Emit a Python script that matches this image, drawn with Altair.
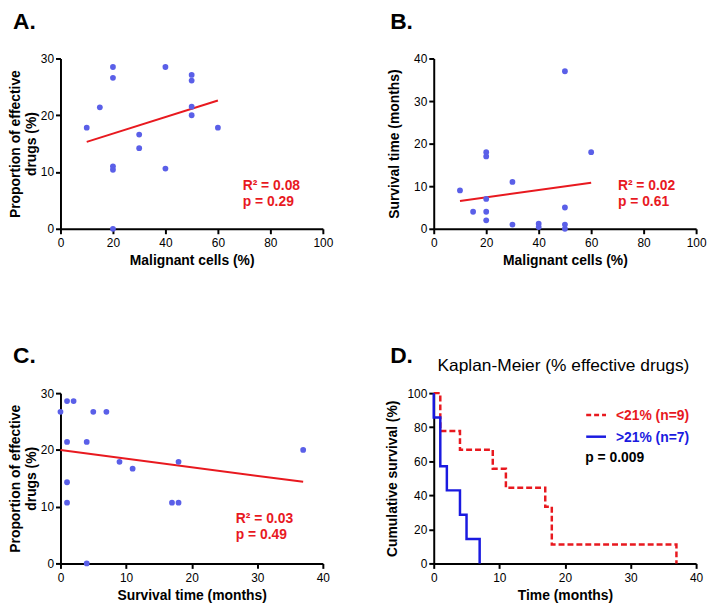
import altair as alt
import pandas as pd

FONT = "Liberation Sans"
DOT = "#5a5fe8"
RED = "#e8191f"
BLUE = "#1a1ae0"

# ---- Panel A: malignant cells vs proportion of effective drugs
a_malignant = [10, 15, 20, 20, 20, 20, 20, 30, 30, 40, 40, 50, 50, 50, 50, 60]
a_effective = [17.8, 21.4, 28.5, 26.6, 11.0, 10.4, 0, 16.6, 14.2, 28.5, 10.6, 27.1, 26.1, 21.5, 20.0, 17.8]
a_stats = ["R² = 0.08", "p = 0.29"]

# ---- Panel B: malignant cells vs survival time
b_malignant = [10, 15, 20, 20, 20, 20, 20, 30, 30, 40, 40, 50, 50, 50, 50, 60]
b_survival = [9, 4, 18, 17, 7, 4, 2, 11, 1, 1.2, 0.4, 37, 5, 1, 0, 18]
b_stats = ["R² = 0.02", "p = 0.61"]

# ---- Panel C: survival time vs proportion of effective drugs
c_survival = [0, 1, 2, 5, 7, 1, 4, 9, 11, 18, 37, 1, 1, 17, 18, 4]
c_effective = [26.7, 28.6, 28.6, 26.7, 26.7, 21.4, 21.4, 17.9, 16.7, 17.9, 20.0, 14.3, 10.7, 10.7, 10.7, 0]
c_stats = ["R² = 0.03", "p = 0.49"]

# ---- Panel D: Kaplan-Meier
km_low_time = [0, 1, 4, 9, 11, 17, 18, 37]
km_low_surv = [100, 77.8, 66.7, 55.6, 44.4, 33.3, 11.1, 0]
km_high_time = [0, 0, 1, 2, 4, 5, 7]
km_high_surv = [100, 85.7, 57.1, 42.9, 28.6, 14.3, 0]
km_title = "Kaplan-Meier (% effective drugs)"
km_low_label = "<21% (n=9)"
km_high_label = ">21% (n=7)"
km_p = "p = 0.009"

W, H = 265, 172
one = pd.DataFrame({"k": [0]})


def ax(**kw):
    return alt.Axis(
        grid=False, domainColor="#000000", domainWidth=2,
        tickColor="#000000", tickWidth=2, tickSize=5,
        labelFont=FONT, labelFontSize=12, labelColor="#000000", labelFlush=False,
        titleFont=FONT, titleFontSize=14, titleFontWeight="bold", titleColor="#000000",
        **kw
    )


def label(txt, dx):
    return alt.Chart(one).mark_text(
        text=txt, font=FONT, fontSize=23, fontWeight="bold", color="black",
        align="left", baseline="alphabetic"
    ).encode(x=alt.value(dx), y=alt.value(-30))


def scatter(xv, yv, xdom, xticks, ydom, yticks, xtitle, ytitle, ypad, stats, sx, sy, lab, ldx):
    df = pd.DataFrame({"x": xv, "y": yv})
    xenc = alt.X("x:Q", scale=alt.Scale(domain=xdom, nice=False),
                 axis=ax(values=xticks, title=xtitle, titlePadding=5, labelPadding=4))
    yenc = alt.Y("y:Q", scale=alt.Scale(domain=ydom, nice=False),
                 axis=ax(values=yticks, title=ytitle, titlePadding=ypad, titleLineHeight=16,
                         labelPadding=2))
    pts = alt.Chart(df).mark_circle(size=34, color=DOT, opacity=1).encode(x=xenc, y=yenc)
    reg = alt.Chart(df).transform_regression("x", "y").mark_line(
        color=RED, strokeWidth=2).encode(x=xenc, y=yenc)
    st = alt.Chart(one).mark_text(
        text=stats, font=FONT, fontSize=14, fontWeight="bold", color=RED,
        align="left", baseline="alphabetic", lineHeight=16
    ).encode(x=alt.value(sx), y=alt.value(sy))
    return alt.layer(reg, pts, st, label(lab, ldx)).properties(width=W, height=H)


A = scatter(a_malignant, a_effective, [0, 100], [0, 20, 40, 60, 80, 100], [0, 30], [0, 10, 20, 30],
            "Malignant cells (%)", ["Proportion of effective", "drugs (%)"], 2,
            a_stats, 184, 133, "A.", -48)
B = scatter(b_malignant, b_survival, [0, 100], [0, 20, 40, 60, 80, 100], [0, 40], [0, 10, 20, 30, 40],
            "Malignant cells (%)", "Survival time (months)", 12,
            b_stats, 186, 133, "B.", -44)
C = scatter(c_survival, c_effective, [0, 40], [0, 10, 20, 30, 40], [0, 30], [0, 10, 20, 30],
            "Survival time (months)", ["Proportion of effective", "drugs (%)"], 2,
            c_stats, 177, 131, "C.", -48)

# Panel D
low_df = pd.DataFrame({"t": km_low_time, "s": km_low_surv, "o": list(range(len(km_low_time)))})
high_df = pd.DataFrame({"t": km_high_time, "s": km_high_surv, "o": list(range(len(km_high_time)))})
dx = alt.X("t:Q", scale=alt.Scale(domain=[0, 40], nice=False),
           axis=ax(values=[0, 10, 20, 30, 40], title="Time (months)", titlePadding=5, labelPadding=4))
dy = alt.Y("s:Q", scale=alt.Scale(domain=[0, 100], nice=False),
           axis=ax(values=[0, 20, 40, 60, 80, 100], title="Cumulative survival (%)",
                   titlePadding=8, labelPadding=2))
low_line = alt.Chart(low_df).mark_line(
    interpolate="step-after", color=RED, strokeWidth=2.5, strokeDash=[6, 3]
).encode(x=dx, y=dy, order="o:Q")
high_line = alt.Chart(high_df).mark_line(
    interpolate="step-after", color=BLUE, strokeWidth=2.5
).encode(x=dx, y=dy, order="o:Q")
ktitle = alt.Chart(one).mark_text(
    text=km_title, font=FONT, fontSize=17.5, color="black", align="center", baseline="alphabetic"
).encode(x=alt.value(131), y=alt.value(-22))
leg_low = alt.Chart(one).mark_rule(color=RED, strokeWidth=2.5, strokeDash=[5, 3]).encode(
    x=alt.value(154), x2=alt.value(174), y=alt.value(22))
leg_high = alt.Chart(one).mark_rule(color=BLUE, strokeWidth=2.5).encode(
    x=alt.value(154), x2=alt.value(174), y=alt.value(44))
txt_low = alt.Chart(one).mark_text(
    text=km_low_label, font=FONT, fontSize=14, fontWeight="bold", color=RED,
    align="left", baseline="alphabetic").encode(x=alt.value(184), y=alt.value(27))
txt_high = alt.Chart(one).mark_text(
    text=km_high_label, font=FONT, fontSize=14, fontWeight="bold", color=BLUE,
    align="left", baseline="alphabetic").encode(x=alt.value(184), y=alt.value(49))
txt_p = alt.Chart(one).mark_text(
    text=km_p, font=FONT, fontSize=14, fontWeight="bold", color="black",
    align="left", baseline="alphabetic").encode(x=alt.value(153), y=alt.value(70))
D = alt.layer(low_line, high_line, ktitle, leg_low, leg_high, txt_low, txt_high, txt_p,
              label("D.", -44)).properties(width=W, height=H)

chart = alt.concat(
    A, B, C, D, columns=2, spacing={"row": 166, "column": 112}, bounds="flush"
).properties(
    padding=0
).configure_view(
    stroke=None
)

chart.save("out.html", embed_options={"renderer": "svg", "actions": False})
